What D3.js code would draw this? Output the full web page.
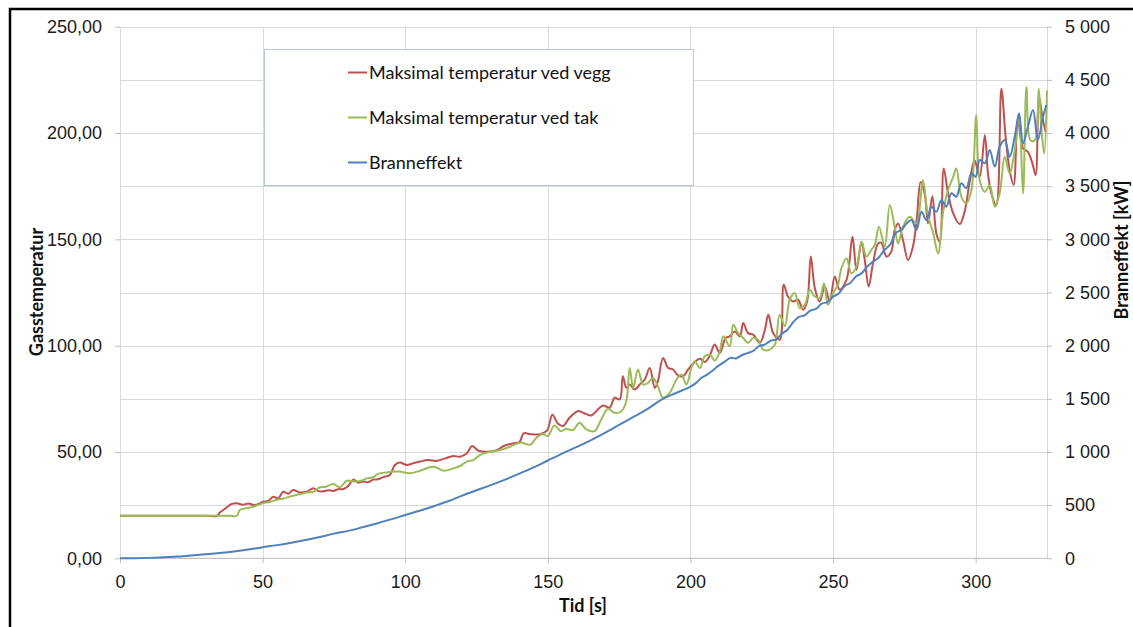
<!DOCTYPE html>
<html>
<head>
<meta charset="UTF-8">
<title>Gasstemperatur og branneffekt</title>
<style>
  body { margin: 0; background: #fff; }
  svg { display: block; font-family: Lato, "Open Sans", sans-serif; }
  .tick text { font-size: 18px; fill: #1a1a1a; }
  .axis path, .axis line { stroke: #bfbfbf; }
  .grid line { stroke: #d9d9d9; stroke-width: 1; }
  .title { font-size: 18px; font-weight: 700; fill: #111; }
  .legend text { font-size: 18px; fill: #111; }
</style>
</head>
<body>
<svg id="chart" width="1133" height="627"></svg>
<script src="https://cdn.jsdelivr.net/npm/d3@7"></script>
<script>
// Maksimal temperatur ved vegg [s, °C]
const vegg = [[0,20],[10,20],[20,20],[30,20],[34,20],[35,21.5],[37,23.5],[39,25.5],[41,25.9],[43,25.2],[45,25.8],[47,25.0],[49,25.8],[50,26.6],[52,27],[53.7,28.9],[55.5,28.2],[57.2,31.3],[59,30.4],[60.7,32.1],[63,31],[65.4,31.3],[67.8,32.9],[69.5,31.6],[71.3,31.5],[73,32],[74.8,31.7],[76.5,32.5],[78.3,32.6],[80,34],[81.8,37.0],[83.5,35.6],[85.3,36.1],[87,35.8],[88.8,37],[90.5,37.2],[92.3,38.2],[94.6,39.2],[96.4,43.9],[98.1,45.0],[100.5,43.9],[102.8,44.7],[105.2,45.5],[108.1,46.2],[111,45.8],[114,47.0],[116.9,48.1],[119.2,47.8],[121.6,49.4],[123.4,52.8],[125.7,50.6],[128.6,50.1],[132.1,50.9],[134.5,52.8],[138,54.1],[140,54.5],[141.5,58.8],[143.8,58.4],[147.3,58.4],[149.7,60.0],[151.6,67.5],[153.5,63.4],[155.3,62.2],[157.6,66.1],[160.5,69.2],[162.9,68.1],[165.2,67.2],[167,69.2],[169.3,71.9],[171.7,70.8],[173.4,75.5],[175.2,74.7],[176.3,85.6],[177.5,80.2],[178.7,81.7],[180.4,79.4],[182.2,81.7],[184,84.1],[185.7,89.5],[187.5,80.2],[188.6,83.3],[190.4,94.2],[192.2,89.5],[193.9,88.8],[195.7,85.9],[197.4,85.6],[199.2,88.8],[200.9,91.5],[203.3,93.8],[205,92.3],[206.8,95.4],[208.5,100.5],[210.3,96.5],[212.3,103.6],[213.8,104.4],[215.5,106.7],[217.3,104.4],[218.5,110.6],[220.2,105.9],[222,105.2],[224.3,101.3],[226.1,107.5],[227.3,114.5],[229,105.9],[231.3,102.8],[232.7,128.6],[234.2,123.1],[236,120.8],[237.7,121.6],[239.5,116.9],[240.9,120.8],[242.2,141.9],[243.6,127.0],[245.3,120.8],[247.1,127.8],[248.8,120.8],[250.6,132.5],[252.3,126.3],[254.7,130.9],[256.8,151.2],[258.2,135.6],[260,148.9],[261.1,140.3],[262.5,127.8],[264,138.8],[265.8,148.1],[266.9,148.4],[268.7,141.9],[270.4,144.2],[271.6,154.4],[272.8,157.5],[274.5,149.7],[276.3,140.3],[278,146.6],[279.3,159.1],[280.7,177.0],[282.1,171.6],[283.3,157.5],[284.8,170.3],[286.2,152.8],[287.4,148.9],[288.8,183.3],[290.3,171.6],[292.1,162.2],[294.4,157.2],[296.1,163.0],[297.9,177.0],[299.6,187.2],[301.4,179.4],[303.2,198.9],[304.3,180.9],[305.5,171.6],[307.2,166.1],[309,220.8],[310.5,198.1],[311.9,182.5],[313.3,175.5],[314.8,205.9],[316.6,192.7],[318.3,191.1],[319.9,185.6],[321,180.2],[322.2,216.9],[323.4,207.5],[324.5,200.5]];

// Maksimal temperatur ved tak [s, °C]
const tak = [[0,20],[10,20],[20,20],[30,20],[38,20],[41,20],[42,22.7],[44,23.5],[47,24.3],[50,25.9],[52.5,26.5],[54.9,27.5],[57,28],[59.5,29.0],[63,30.1],[65.5,30.9],[67.8,31.3],[70.1,33.4],[72,33.6],[74.8,34.9],[77.1,33.4],[79.5,36.5],[81.8,36.1],[83,36.1],[85.3,36.8],[86.5,37.6],[88.8,38.1],[90.5,39.7],[93.4,40.4],[96.9,40.8],[98.1,40.8],[101.6,40.0],[105.2,41.2],[109.9,43.1],[113.4,41.2],[116.9,42.3],[119.2,43.4],[121.6,45.5],[123.9,46.2],[126.3,48.6],[129.8,50.1],[133.3,50.9],[136.8,52.5],[140.3,54.4],[143.8,53.4],[146,56.7],[148.2,58.5],[150,57.5],[152.3,62.5],[154.5,59.8],[156.4,60.9],[158.8,60.3],[161.1,63.8],[163.5,60.6],[166.4,59.8],[168.7,65.3],[171.1,70.3],[173.4,68.4],[175.8,69.2],[177.5,73.9],[178.7,89.5],[179.9,80.2],[181.6,88.8],[183.4,81.7],[185.1,82.5],[186.9,84.8],[188.6,80.9],[190.4,75.5],[192.7,77.8],[195.1,84.1],[196.8,86.4],[198.6,81.7],[200.2,89],[201.5,92.7],[203.3,89.5],[205,95],[206.8,95.8],[208.5,93],[210.3,97.3],[211.5,104.4],[213.8,99.7],[215,109.8],[216.7,105.9],[218.5,103.6],[220.2,101.3],[222,103.6],[223.7,102.8],[225.5,98.1],[227.8,98.1],[229.6,100.5],[231.3,114.5],[233.1,109.1],[234.8,121.6],[236.6,124.7],[238.3,117.7],[240.1,119.2],[241.8,126.3],[243.6,123.1],[245.3,122.3],[246.8,129.4],[248.2,119.2],[250,124.7],[251.7,128.6],[252.9,136.4],[254.7,141.1],[256.4,134.1],[258.2,137.2],[260,148.9],[261.7,141.9],[263.4,145],[264.6,147.3],[266.1,155.9],[268.1,146.6],[269.9,166.1],[271.6,155.9],[272.8,148.1],[274.5,155.9],[276.9,160.6],[279.2,157.5],[281.5,177.8],[283.3,160.6],[285,153.6],[286.8,143.4],[288.6,163.0],[290.3,173.1],[292.1,179.4],[293.2,183.3],[295,170],[296.7,166.9],[298.5,173.1],[300.2,208.3],[301.4,177.8],[303.2,172.3],[304.9,175.5],[306.7,165.3],[308.4,171.6],[310.2,188.8],[311.9,180.9],[313.7,191.9],[315.2,208.3],[316.6,171.6],[317.8,221.6],[319.2,196.6],[320.7,196.6],[322.1,220.8],[323,202.8],[324,190.3],[325,220]];

// Branneffekt [s, kW]
const effekt = [[0,0],[5,1],[10,4],[15,9],[20,16],[25,27],[30,37],[35,50],[40,65],[45,83],[50,104],[55,124],[60,147],[65,172],[70,200],[75,232],[80,258],[85,292],[90,328],[95,366],[100,407],[105,447],[110,490],[115,536],[120,590],[125,640],[130,688],[135,740],[140,796],[145,855],[150,920],[155,985],[160,1045],[165,1110],[170,1180],[175,1255],[180,1330],[185,1405],[190,1495],[195,1555],[200,1614],[202,1650],[204,1700],[206,1730],[208,1771],[210,1815],[212,1850],[214,1885],[216,1880],[218,1910],[220,1930],[222,1950],[224,1995],[226,2010],[228,2045],[230,2060],[232,2110],[234,2150],[236,2220],[238,2270],[240,2285],[242,2330],[244,2345],[246,2395],[248,2410],[250,2461],[252,2490],[254,2560],[256,2590],[258,2650],[260,2680],[262,2745],[264,2790],[266,2830],[268,2900],[270,2950],[272,3060],[274,3090],[275.8,3150],[277.5,3182],[279.2,3088],[281,3260],[282.7,3182],[284.5,3307],[286.2,3260],[288,3370],[289.7,3307],[291.5,3433],[293.2,3401],[295,3527],[296.7,3480],[298.5,3621],[300,3589],[301.4,3746],[303.2,3715],[304.9,3840],[306.7,3684],[308.4,3871],[310.2,3934],[311.9,3777],[313.7,3965],[315.2,4185],[316.6,3903],[318.3,4059],[320.1,4216],[321.8,3934],[323.6,4153],[324.8,4263]];

const xTicks = [0, 50, 100, 150, 200, 250, 300];
const tempTicks = [0, 50, 100, 150, 200, 250];
const effektTicks = [0, 500, 1000, 1500, 2000, 2500, 3000, 3500, 4000, 4500, 5000];

const series = [
  {name: "Maksimal temperatur ved vegg", data: vegg, color: "#C0504D", axis: "temp"},
  {name: "Maksimal temperatur ved tak", data: tak, color: "#9BBB59", axis: "temp"},
  {name: "Branneffekt", data: effekt, color: "#4F81BD", axis: "effekt"}
];

const svg = d3.select("#chart");
const plotLeft = 120, plotRight = 1047, plotTop = 26.7, plotBottom = 558.3;

const x = d3.scaleLinear().domain([0, 325]).range([plotLeft, plotRight]);
const yTemp = d3.scaleLinear().domain([0, 250]).range([plotBottom, plotTop]);
const yEff = d3.scaleLinear().domain([0, 5000]).range([plotBottom, plotTop]);

const nb = d3.formatLocale({decimal: ",", thousands: " ", grouping: [3], currency: ["", ""]});

svg.append("rect").attr("width", 1133).attr("height", 627).attr("fill", "#fff");

// gridlines
const grid = svg.append("g").attr("class", "grid");
grid.selectAll("line.h").data(effektTicks).join("line").attr("class", "h")
  .attr("x1", plotLeft).attr("x2", plotRight)
  .attr("y1", d => Math.round(yEff(d)) + 0.5).attr("y2", d => Math.round(yEff(d)) + 0.5);
grid.selectAll("line.v").data(xTicks.concat([325])).join("line").attr("class", "v")
  .attr("x1", d => Math.round(x(d)) + 0.5).attr("x2", d => Math.round(x(d)) + 0.5)
  .attr("y1", plotTop).attr("y2", plotBottom);

// axes
svg.append("g").attr("class", "axis")
  .attr("transform", `translate(0,${plotBottom})`)
  .call(d3.axisBottom(x).tickValues(xTicks).tickSize(5).tickPadding(12).tickSizeOuter(0))
  .call(g => g.select(".domain").remove());
svg.append("line").attr("x1", plotLeft).attr("x2", plotRight)
  .attr("y1", plotBottom).attr("y2", plotBottom).attr("stroke", "#bfbfbf");

svg.append("g").attr("class", "axis")
  .attr("transform", `translate(${plotLeft},0)`)
  .call(d3.axisLeft(yTemp).tickValues(tempTicks).tickSize(5).tickPadding(13)
    .tickFormat(d => nb.format(",.2f")(d)))
  .call(g => g.select(".domain").remove());

svg.append("g").attr("class", "axis")
  .attr("transform", `translate(${plotRight},0)`)
  .call(d3.axisRight(yEff).tickValues(effektTicks).tickSize(5).tickPadding(13)
    .tickFormat(d => nb.format(",")(d)))
  .call(g => g.select(".domain").remove());

// lines
const curve = d3.curveCatmullRom.alpha(0.5);
series.forEach(s => {
  const yScale = s.axis === "effekt" ? yEff : yTemp;
  svg.append("path")
    .datum(s.data)
    .attr("fill", "none")
    .attr("stroke", s.color)
    .attr("stroke-width", 2)
    .attr("stroke-linejoin", "round")
    .attr("d", d3.line().x(d => x(d[0])).y(d => yScale(d[1])).curve(curve));
});

// legend
const legend = svg.append("g").attr("class", "legend");
legend.append("rect")
  .attr("x", 264.5).attr("y", 49.5).attr("width", 429).attr("height", 136)
  .attr("fill", "#fff").attr("stroke", "#b8c7dd");
const rows = legend.selectAll("g.row").data(series).join("g")
  .attr("class", "row")
  .attr("transform", (d, i) => `translate(0,${72.5 + i * 45})`);
rows.append("line").attr("x1", 348).attr("x2", 367).attr("y1", 0).attr("y2", 0)
  .attr("stroke", d => d.color).attr("stroke-width", 2);
rows.append("text").attr("x", 369).attr("y", 6.5).text(d => d.name);

// axis titles
svg.append("text").attr("class", "title")
  .attr("transform", "translate(43,292) rotate(-90)")
  .attr("text-anchor", "middle").text("Gasstemperatur");
svg.append("text").attr("class", "title")
  .attr("x", 583).attr("y", 612).attr("text-anchor", "middle").text("Tid [s]");
svg.append("text").attr("class", "title")
  .attr("transform", "translate(1128,250) rotate(-90)")
  .attr("text-anchor", "middle").text("Branneffekt [kW]");

// outer frame
svg.append("rect").attr("x", 10).attr("y", 9).attr("width", 1200).attr("height", 700)
  .attr("fill", "none").attr("stroke", "#000").attr("stroke-width", 2.5);
</script>
</body>
</html>
